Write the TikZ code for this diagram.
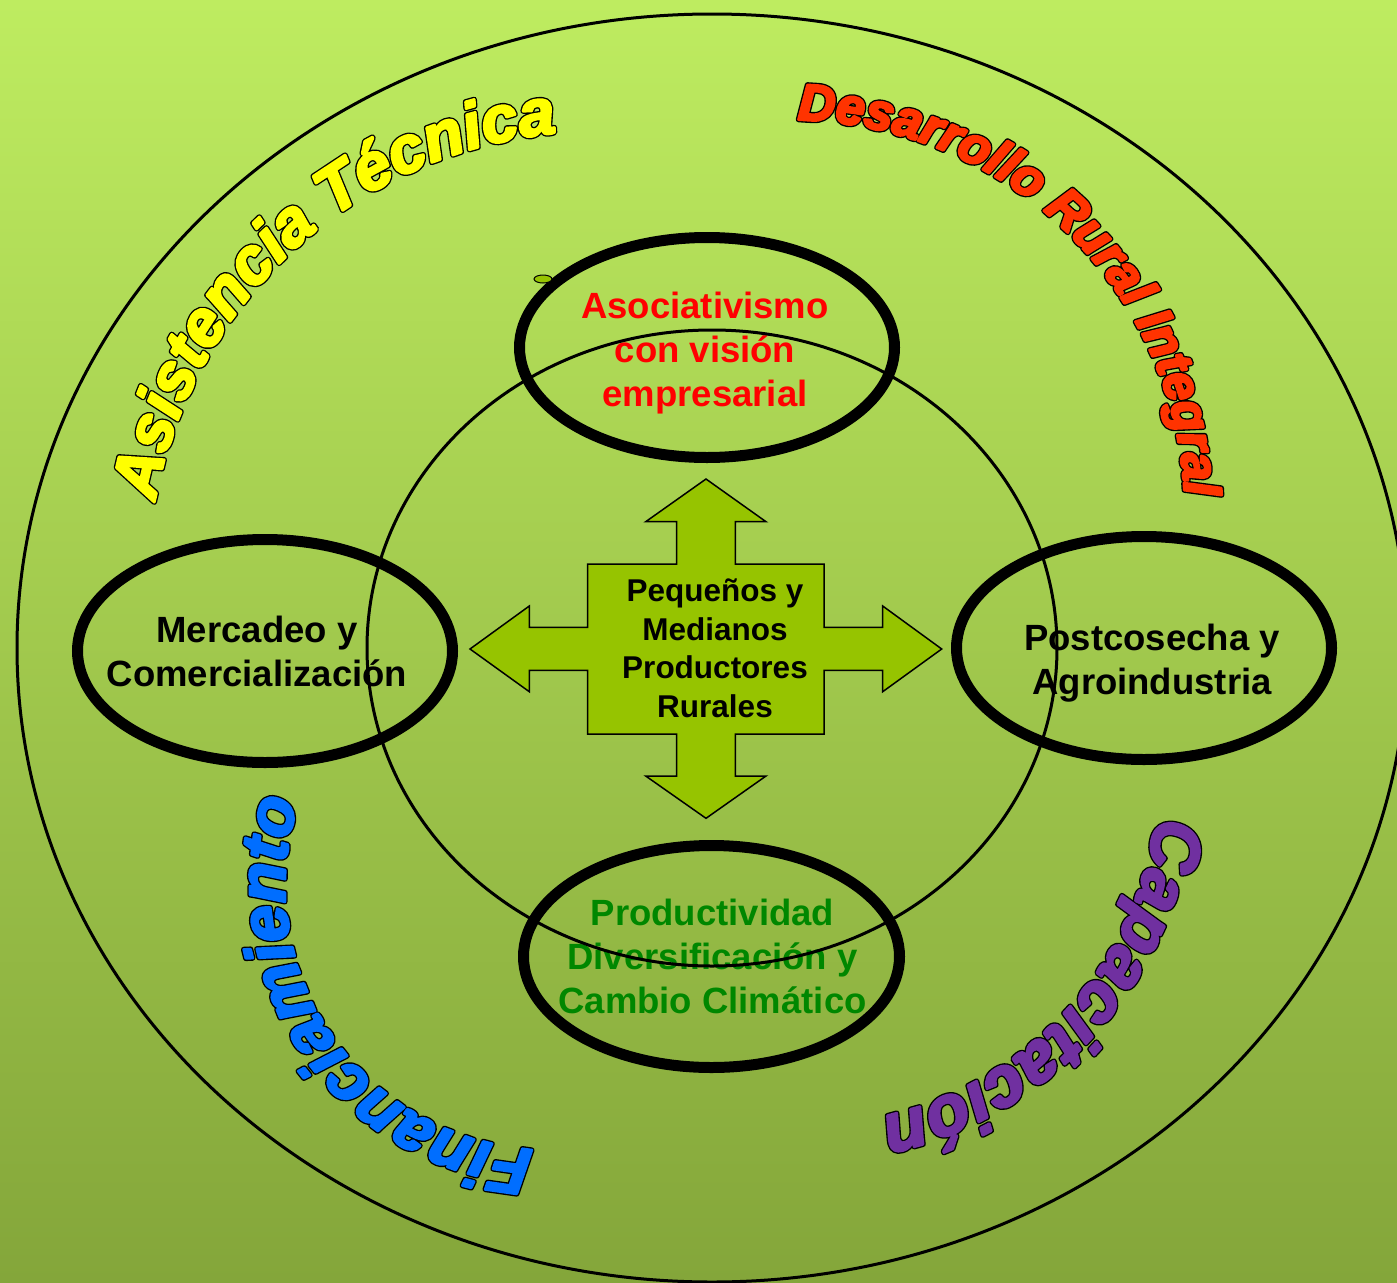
\documentclass[tikz,border=0pt]{standalone}
\usepackage{fontspec}
\setmainfont{Liberation Sans}
\newfontfamily\wafont{Liberation Sans}
\usetikzlibrary{shapes.geometric,decorations.text}
\definecolor{bgtop}{RGB}{190,236,96}
\definecolor{bgbot}{RGB}{132,166,58}
\definecolor{crossfill}{RGB}{150,196,0}
\definecolor{wyellow}{RGB}{255,255,0}
\definecolor{wred}{RGB}{255,51,0}
\definecolor{wblue}{RGB}{0,110,255}
\definecolor{wpurple}{RGB}{112,48,160}
\definecolor{tred}{RGB}{255,0,0}
\definecolor{tgreen}{RGB}{0,135,0}
\newcommand\outlinepass{\special{pdf:literal direct 1 j 2 Tr 5.5 w}}
\newcommand\fillpass{\special{pdf:literal direct 1 j 2 Tr 2.8 w}}
\newcommand\wordart[1]{\wafont\bfseries\itshape\fontsize{#1}{#1}\selectfont}
\newcommand\curvedtext[7]{%
  \path[decorate,decoration={text along path,text align=center,
    text={|\color{black}\outlinepass\wordart{#5}|#7}}]
    (#1) ++(#3:#2) arc[start angle=#3,end angle=#4,radius=#2];
  \path[decorate,decoration={text along path,text align=center,
    text={|\color{#6}\fillpass\wordart{#5}|#7}}]
    (#1) ++(#3:#2) arc[start angle=#3,end angle=#4,radius=#2];
}
\begin{document}
\begin{tikzpicture}[x=1pt,y=1pt,
  ring/.style={ellipse, draw=black, line width=11pt, inner sep=0pt, outer sep=0pt},
  thinring/.style={ellipse, draw=black, line width=3pt, inner sep=0pt, outer sep=0pt},
  lbl/.style={font=\fontsize{36.5}{44}\selectfont\bfseries, align=center, anchor=base, inner sep=0pt},
  centerlbl/.style={font=\fontsize{31.5}{38.5}\selectfont\bfseries, align=center, anchor=base, inner sep=0pt}]
\useasboundingbox (0,0) rectangle (1397,-1282);
\shade[top color=bgtop, bottom color=bgbot] (0,0) rectangle (1397,-1282);
\begin{scope}
\clip (0,0) rectangle (1397,-1282);
\node[thinring, minimum width=1390pt, minimum height=1268pt] (outer) at (712,-648) {};
\end{scope}
% central cross arrow
\draw[line width=1.5pt, fill=crossfill, line join=miter]
 (706,-479) -- (766,-521.7) -- (735.3,-521.7) -- (735.3,-564) -- (824,-564) -- (824,-627.3)
 -- (882.7,-627.3) -- (882.7,-606) -- (941.7,-649) -- (882.7,-691.7) -- (882.7,-670.3)
 -- (824,-670.3) -- (824,-734) -- (735.3,-734) -- (735.3,-776) -- (766,-776) -- (706,-818.3)
 -- (645.7,-776) -- (676.7,-776) -- (676.7,-734) -- (587.7,-734) -- (587.7,-670.3)
 -- (529.3,-670.3) -- (529.3,-691.7) -- (470,-649) -- (529.3,-606) -- (529.3,-627.3)
 -- (587.7,-627.3) -- (587.7,-564) -- (676.7,-564) -- (676.7,-521.7) -- (645.7,-521.7) -- cycle;
\node[centerlbl] (pym) at (715,-717) {Pequeños y\\Medianos\\Productores\\Rurales};
% thick ellipses
\node[ring, minimum width=375pt, minimum height=220pt] (asoc) at (707,-347.5) {};
\node[ring, minimum width=375pt, minimum height=223pt] (merc) at (265,-651) {};
\node[ring, minimum width=375pt, minimum height=223pt] (post) at (1144,-648) {};
\node[ring, minimum width=376pt, minimum height=222pt] (prod) at (711.5,-956.5) {};
\node[ellipse, draw=black, line width=1pt, fill=crossfill, minimum width=18pt, minimum height=8pt, inner sep=0pt] (dot) at (543,-279) {};
% texts
\node[lbl, text=tred] (asoctxt) at (705,-406.7) {Asociativismo\\con visión\\empresarial};
\node[lbl] (merctxt) at (257,-686.7) {Mercadeo y\\Comercialización};
\node[lbl] (posttxt) at (1152,-694) {Postcosecha y\\Agroindustria};
\node[lbl, text=tgreen] (prodtxt) at (712.5,-1013.3) {Productividad\\Diversificación y\\Cambio Climático};
% inner ellipse
\node[thinring, minimum width=690pt, minimum height=636pt] (inner) at (712,-648) {};
% curved word-art texts
\coordinate (cAsis) at (598,-581);
\coordinate (cDesa) at (792,-513);
\coordinate (cFina) at (550,-885);
\coordinate (cCapa) at (806,-772);
\curvedtext{cAsis}{450}{190}{75}{65}{wyellow}{Asistencia Técnica}
\curvedtext{cDesa}{393}{110}{-18.4}{51}{wred}{Desarrollo Rural Integral}
\curvedtext{cFina}{265}{290}{138}{66}{wblue}{Financiamiento}
\curvedtext{cCapa}{353}{5}{-90.2}{70}{wpurple}{Capacitación}
\end{tikzpicture}
\end{document}
